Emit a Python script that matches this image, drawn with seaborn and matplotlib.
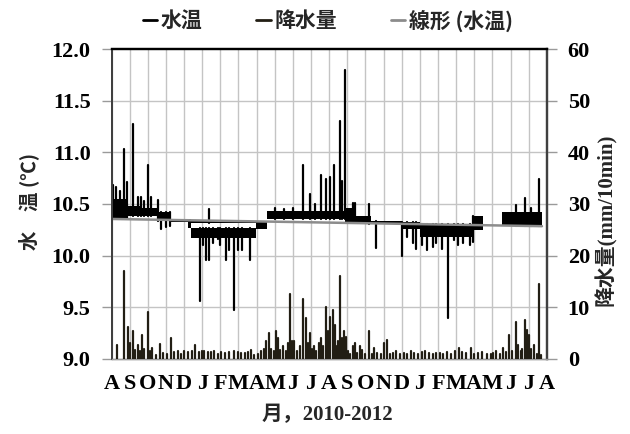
import numpy as np
import pandas as pd
import matplotlib
matplotlib.use("Agg")
import matplotlib.pyplot as plt
import seaborn as sns
from matplotlib.lines import Line2D

sns.set_theme(style="white")
SERIF_CJK = ['Liberation Serif', 'Noto Sans CJK JP']
CJK = ['Noto Sans CJK JP', 'DejaVu Sans']
plt.rcParams['font.family'] = SERIF_CJK

# x positions are months counted from 1 Aug 2010
month_labels = list("ASONDJFMAMJJASONDJFMAMJJA")

# water temperature: typical range of the 10-min record over each period (°C)
band_start = [0.00, 0.90, 1.60, 2.55, 3.30, 4.22, 4.40, 4.22, 7.97, 8.55, 12.90, 13.50, 14.30, 16.00, 17.00, 19.90, 21.55]
band_end   = [0.90, 1.60, 2.55, 3.30, 4.22, 4.40, 7.97, 7.97, 8.55, 12.90, 13.50, 14.30, 16.00, 17.00, 19.90, 20.50, 23.73]
band_low   = [10.36, 10.38, 10.38, 10.34, 10.33, 10.27, 10.17, 10.32, 10.26, 10.35, 10.33, 10.31, 10.31, 10.26, 10.18, 10.25, 10.29]
band_high  = [10.55, 10.48, 10.46, 10.42, 10.35, 10.35, 10.27, 10.34, 10.33, 10.43, 10.46, 10.38, 10.34, 10.33, 10.31, 10.38, 10.42]

# short excursions above the typical range (month, °C)
peak_month = [0.09, 0.22, 0.49, 0.69, 0.88, 1.19, 1.45, 1.65, 1.80, 2.01, 2.20, 2.56,
              5.35, 9.00, 9.50, 10.00, 10.58, 10.94, 11.20, 11.54, 11.82, 12.05, 12.28,
              12.59, 12.72, 12.87, 13.30, 13.45, 14.20, 22.30, 22.80, 23.10, 23.58]
peak_temp  = [10.68, 10.66, 10.63, 11.03, 10.71, 11.27, 10.57, 10.57, 10.53, 10.88, 10.57, 10.54,
              10.45, 10.46, 10.45, 10.46, 10.88, 10.60, 10.50, 10.78, 10.74, 10.76, 10.88,
              11.30, 10.72, 11.80, 10.51, 10.51, 10.50, 10.49, 10.56, 10.46, 10.74]

# short excursions below the typical range (month, °C)
dip_month = [2.74, 3.00, 3.20, 4.89, 5.05, 5.19, 5.37, 5.60, 5.87, 6.00, 6.29, 6.50, 6.77,
             7.00, 7.20, 7.64, 14.57, 16.04, 16.30, 16.60, 16.78, 17.10, 17.40, 17.70,
             17.90, 18.20, 18.57, 18.90, 19.10, 19.40, 19.75, 19.95]
dip_temp  = [10.26, 10.28, 10.29, 9.56, 10.10, 9.96, 9.96, 10.12, 10.16, 10.10, 9.96, 10.05, 9.47,
             10.05, 10.05, 9.96, 10.07, 10.00, 10.18, 10.12, 10.06, 10.10, 10.05, 10.08,
             10.12, 10.06, 9.40, 10.15, 10.10, 10.12, 10.10, 10.13]

# linear trend of water temperature
trend_month = [0.0, 23.73]
trend_temp = [10.355, 10.285]

# 10-min precipitation maxima (month, mm/10min)
rain_month = [0.29, 0.68, 0.90, 1.00, 1.17, 1.32, 1.45, 1.58, 1.67, 1.81, 2.00, 2.10, 2.22, 2.45,
              2.69, 2.85, 3.05, 3.28, 3.45, 3.65, 3.85, 4.00, 4.20, 4.45, 4.60, 4.80, 5.00,
              5.10, 5.30, 5.50, 5.66, 5.85, 6.05, 6.25, 6.50, 6.77, 6.95, 7.15, 7.35, 7.50,
              7.68, 7.85, 8.05, 8.25, 8.40, 8.50, 8.69, 8.80, 8.95, 9.05, 9.18, 9.30, 9.46,
              9.60, 9.75, 9.84, 9.95, 10.07, 10.25, 10.40, 10.56, 10.70, 10.82, 10.95, 11.05,
              11.17, 11.30, 11.45, 11.53, 11.65, 11.80, 11.95, 12.06, 12.19, 12.30, 12.40,
              12.50, 12.60, 12.70, 12.83, 12.92, 13.05, 13.15, 13.29, 13.44, 13.55, 13.71,
              13.80, 13.95, 14.21, 14.35, 14.48, 14.65, 14.85, 15.00, 15.20, 15.35, 15.50,
              15.70, 15.90, 16.10, 16.30, 16.50, 16.70, 16.90, 17.10, 17.30, 17.50, 17.70,
              17.90, 18.10, 18.30, 18.50, 18.70, 18.95, 19.16, 19.35, 19.55, 19.80, 20.00,
              20.20, 20.45, 20.70, 20.90, 21.05, 21.21, 21.40, 21.60, 21.75, 21.93, 22.10,
              22.28, 22.40, 22.55, 22.65, 22.79, 22.91, 23.00, 23.10, 23.28, 23.45, 23.56, 23.70]
rain_mm = [2.7, 17.0, 6.1, 3.0, 5.5, 1.8, 2.6, 1.5, 4.6, 2.0, 9.0, 1.5, 2.2, 0.8,
           2.8, 1.2, 1.0, 4.1, 1.4, 1.5, 1.0, 1.5, 1.3, 1.5, 2.7, 1.4, 1.5,
           1.6, 1.4, 1.3, 1.6, 1.0, 1.3, 1.2, 1.3, 1.6, 1.3, 1.2, 1.1, 1.3,
           1.7, 0.8, 1.0, 1.5, 2.0, 3.4, 5.1, 2.0, 1.5, 5.5, 4.0, 1.8, 2.5,
           1.5, 3.0, 12.6, 3.5, 3.5, 1.5, 2.5, 11.6, 7.9, 3.0, 5.0, 2.0,
           2.5, 1.5, 3.0, 4.1, 2.5, 10.1, 5.5, 8.1, 9.5, 6.6, 2.5,
           3.5, 16.0, 4.0, 5.5, 4.3, 1.5, 1.0, 2.5, 3.1, 1.2, 2.5,
           1.7, 1.0, 5.5, 1.0, 2.1, 1.2, 1.0, 3.1, 3.6, 1.0, 1.2,
           1.6, 1.0, 1.2, 1.0, 1.6, 1.2, 1.0, 1.3, 1.6, 1.2, 1.0,
           1.2, 1.2, 1.0, 1.3, 1.0, 1.5, 2.1, 1.3, 1.2, 2.1, 1.0,
           1.2, 1.4, 1.0, 0.9, 1.2, 1.6, 1.0, 2.1, 1.3, 4.7, 1.5,
           7.1, 2.7, 1.5, 2.0, 7.6, 5.6, 4.7, 2.0, 2.6, 1.0, 14.6, 0.8]

TEMP_COLOR = "#000000"
RAIN_COLOR = "#221e14"
TREND_COLOR = "#8c8c8c"
GRID_COLOR = "#c4c4c4"


def band_edge(m, use_low):
    """Edge of the typical range at month m (lower edge for peaks, upper for dips)."""
    vals = [lo if use_low else hi
            for s, e, lo, hi in zip(band_start, band_end, band_low, band_high) if s <= m <= e]
    if not vals:
        return 10.33
    return min(vals) if not use_low else max(vals)


def stick_frame(xs, tops, bases):
    rows = []
    for i, (x, t, b) in enumerate(zip(xs, tops, bases)):
        rows.append((i, x, b))
        rows.append((i, x, t))
    return pd.DataFrame(rows, columns=["id", "month", "value"])


fig = plt.figure(figsize=(6.3, 4.34), dpi=100)
ax = fig.add_axes([0.177, 0.173, 0.691, 0.714])
ax2 = ax.twinx()

# grid
for m in range(25):
    ax.axvline(m, color=GRID_COLOR, lw=1.0, zorder=0)
for v in np.arange(9.5, 12.0, 0.5):
    ax.axhline(v, color=GRID_COLOR, lw=1.0, zorder=0)

# water temperature range
for s, e, lo, hi in zip(band_start, band_end, band_low, band_high):
    ax.fill_between([s, e], [lo, lo], [hi, hi], color=TEMP_COLOR, lw=0, zorder=3)

peaks = stick_frame(peak_month, peak_temp, [band_edge(m, True) for m in peak_month])
dips = stick_frame(dip_month, dip_temp, [band_edge(m, False) for m in dip_month])
for df in (peaks, dips):
    sns.lineplot(data=df, x="month", y="value", units="id", estimator=None, sort=False,
                 color=TEMP_COLOR, lw=1.6, ax=ax, zorder=3)

trend = pd.DataFrame({"month": trend_month, "value": trend_temp})
sns.lineplot(data=trend, x="month", y="value", color=TREND_COLOR, lw=1.8, ax=ax, zorder=4)

# precipitation
rain = stick_frame(rain_month, rain_mm, [0.0] * len(rain_mm))
sns.lineplot(data=rain, x="month", y="value", units="id", estimator=None, sort=False,
             color=RAIN_COLOR, lw=1.6, ax=ax2, zorder=3)

ax.set_xlim(0, 24)
ax.set_ylim(9.0, 12.0)
ax2.set_ylim(0, 60)
ax.set_xticks(range(25))
ax.set_xticklabels(month_labels)
ax.set_yticks(np.arange(9.0, 12.01, 0.5))
ax.set_yticklabels([f"{v:.1f}" for v in np.arange(9.0, 12.01, 0.5)])
ax2.set_yticks(range(0, 61, 10))

for lab in ax.get_xticklabels() + ax.get_yticklabels() + ax2.get_yticklabels():
    lab.set_fontfamily(['Liberation Serif'])
    lab.set_fontweight('bold')
    lab.set_fontsize(16)
    lab.set_color('black')

ax.tick_params(axis='x', direction='out', length=5, width=1, color='#9a9a9a', pad=6)
ax.tick_params(axis='y', direction='out', length=7, width=1, color='#9a9a9a', pad=8)
ax2.tick_params(axis='y', direction='out', length=7, width=1, color='#9a9a9a', pad=8)
ax.set_xlabel("")
ax.set_ylabel("")
ax2.set_ylabel("")

for a in (ax, ax2):
    a.spines['top'].set_color('black')
    a.spines['top'].set_linewidth(1.6)
    a.spines['left'].set_color('#404040')
    a.spines['left'].set_linewidth(1.4)
    a.spines['right'].set_color('#404040')
    a.spines['right'].set_linewidth(1.6)
    a.spines['bottom'].set_color('#9a9a9a')
    a.spines['bottom'].set_linewidth(1.0)

fig.text(0.045, 0.535, "水\u3000温 (℃)", rotation=90, ha='center', va='center',
         family=CJK, weight='bold', fontsize=14)
fig.text(0.962, 0.493, "降水量(mm/10min)", rotation=90, ha='center', va='center',
         family=SERIF_CJK, weight='bold', fontsize=15)
fig.text(0.52, 0.043, "月，2010-2012", ha='center', va='center',
         family=SERIF_CJK, weight='bold', fontsize=15)

handles = [Line2D([], [], color=TEMP_COLOR, lw=2),
           Line2D([], [], color=RAIN_COLOR, lw=2),
           Line2D([], [], color=TREND_COLOR, lw=2)]
fig.legend(handles, ["水温", "降水量", "線形 (水温)"], loc='center', ncol=3,
           bbox_to_anchor=(0.52, 0.953), frameon=False, handlelength=0.7,
           handletextpad=0.15, columnspacing=2.6,
           prop=dict(family=CJK, weight='bold', size=15))

fig.savefig("out.png", dpi=100)
